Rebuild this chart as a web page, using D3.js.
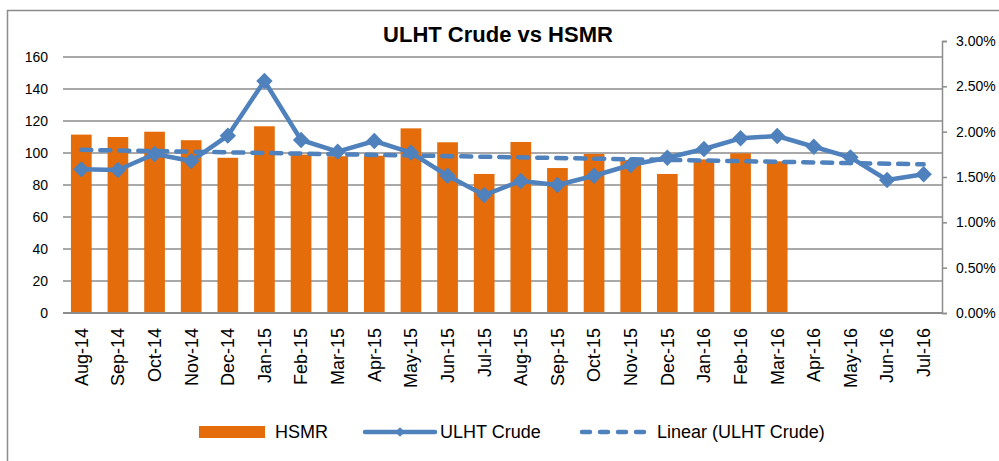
<!DOCTYPE html>
<html>
<head>
<meta charset="utf-8">
<script src="https://d3js.org/d3.v7.min.js"></script>
<style>
  body { margin: 0; background: #fff; }
  svg { display: block; font-family: "Liberation Sans", Arial, sans-serif; }
</style>
</head>
<body>
<svg width="999" height="461"></svg>
<script>
var months = ["Aug-14","Sep-14","Oct-14","Nov-14","Dec-14","Jan-15","Feb-15","Mar-15","Apr-15","May-15","Jun-15","Jul-15",
              "Aug-15","Sep-15","Oct-15","Nov-15","Dec-15","Jan-16","Feb-16","Mar-16","Apr-16","May-16","Jun-16","Jul-16"];

// HSMR (left axis), no values after Mar-16
var hsmr = [111.5, 110, 113.3, 108, 97, 116.7, 99, 98, 98.3, 115.4, 106.7, 86.9,
            106.9, 90.6, 99.4, 95.6, 86.9, 96, 99.8, 94.8, null, null, null, null];

// ULHT crude mortality (right axis, %)
var crude = [1.585, 1.577, 1.754, 1.676, 1.956, 2.559, 1.908, 1.779, 1.897, 1.768, 1.514, 1.301,
             1.456, 1.412, 1.514, 1.632, 1.712, 1.809, 1.927, 1.952, 1.834, 1.717, 1.467, 1.53];

// linear trend of ULHT crude, first and last month
var trend = [1.80, 1.64];

var leftTicks = [0, 20, 40, 60, 80, 100, 120, 140, 160];
var rightTicks = [0, 0.5, 1, 1.5, 2, 2.5, 3];

var svg = d3.select("svg");
var orange = "#E46C0A", blue = "#4F81BD", grid = "#8C8C8C";

var plotL = 63, plotR = 942, plotT = 41, plotB = 313;

var x = d3.scaleBand().domain(months).range([plotL, plotR]);
var y = d3.scaleLinear().domain([0, 170]).range([plotB, plotT]);
var y2 = d3.scaleLinear().domain([0, 3]).range([plotB, plotT]);
var barW = x.bandwidth() * 0.565;
function cx(m) { return x(m) + x.bandwidth() / 2; }

// chart border (only left and top visible)
svg.append("rect")
    .attr("x", 7.5).attr("y", 10.5)
    .attr("width", 1000).attr("height", 460)
    .attr("fill", "none").attr("stroke", grid).attr("stroke-width", 1.5);

// title
svg.append("text")
    .attr("x", 498).attr("y", 42)
    .attr("text-anchor", "middle")
    .attr("font-size", 22).attr("font-weight", "bold")
    .text("ULHT Crude vs HSMR");

// gridlines
svg.append("g").selectAll("line")
  .data(leftTicks.slice(1))
  .enter().append("line")
    .attr("x1", plotL).attr("x2", plotR)
    .attr("y1", function(d) { return y(d); })
    .attr("y2", function(d) { return y(d); })
    .attr("stroke", grid).attr("stroke-width", 1.5);

// left labels
svg.append("g").selectAll("text")
  .data(leftTicks)
  .enter().append("text")
    .attr("x", 48)
    .attr("y", function(d) { return y(d); })
    .attr("dy", "0.35em")
    .attr("text-anchor", "end")
    .attr("font-size", 14)
    .text(function(d) { return d; });

// bars
svg.append("g").selectAll("rect")
  .data(months.map(function(m, i) { return { m: m, v: hsmr[i] }; }).filter(function(d) { return d.v != null; }))
  .enter().append("rect")
    .attr("x", function(d) { return cx(d.m) - barW / 2; })
    .attr("width", barW)
    .attr("y", function(d) { return y(d.v); })
    .attr("height", function(d) { return y(0) - y(d.v); })
    .attr("fill", orange);

// x axis line
svg.append("line")
    .attr("x1", plotL).attr("x2", plotR)
    .attr("y1", plotB).attr("y2", plotB)
    .attr("stroke", grid).attr("stroke-width", 2);

// right axis
var ra = svg.append("g").attr("transform", "translate(" + plotR + ",0)")
    .call(d3.axisRight(y2).tickValues(rightTicks).tickSize(5).tickPadding(9)
      .tickFormat(function(d) { return d.toFixed(2) + "%"; }));
ra.select(".domain").attr("stroke", grid).attr("stroke-width", 1.5);
ra.selectAll(".tick line").attr("stroke", grid).attr("stroke-width", 1.5);
ra.selectAll(".tick text").attr("font-size", 14).attr("fill", "#000");
ra.attr("font-family", null);

// x labels
svg.append("g").selectAll("text")
  .data(months)
  .enter().append("text")
    .attr("transform", function(d) { return "translate(" + cx(d) + ",328) rotate(-90)"; })
    .attr("dy", "0.35em")
    .attr("text-anchor", "end")
    .attr("font-size", 18)
    .text(function(d) { return d; });

// trend line
svg.append("line")
    .attr("x1", cx(months[0])).attr("x2", cx(months[months.length - 1]))
    .attr("y1", y2(trend[0])).attr("y2", y2(trend[1]))
    .attr("stroke", blue).attr("stroke-width", 4.5)
    .attr("stroke-dasharray", "10,9").attr("stroke-linecap", "round");

// crude line
var line = d3.line()
    .x(function(d, i) { return cx(months[i]); })
    .y(function(d) { return y2(d); });

svg.append("path")
    .datum(crude)
    .attr("d", line)
    .attr("fill", "none")
    .attr("stroke", blue).attr("stroke-width", 4.5)
    .attr("stroke-linejoin", "round");

var diamond = d3.symbol().type(d3.symbolDiamond2).size(170);

svg.append("g").selectAll("path")
  .data(crude)
  .enter().append("path")
    .attr("d", diamond)
    .attr("transform", function(d, i) { return "translate(" + cx(months[i]) + "," + y2(d) + ")"; })
    .attr("fill", blue);

// legend
var lg = svg.append("g").attr("font-size", 18);
lg.append("rect").attr("x", 199).attr("y", 426).attr("width", 66).attr("height", 12).attr("fill", orange);
lg.append("text").attr("x", 275).attr("y", 432).attr("dy", "0.35em").text("HSMR");

lg.append("line").attr("x1", 365).attr("x2", 435).attr("y1", 432).attr("y2", 432)
    .attr("stroke", blue).attr("stroke-width", 4.5).attr("stroke-linecap", "round");
lg.append("path").attr("d", d3.symbol().type(d3.symbolDiamond2).size(60))
    .attr("transform", "translate(400,432)").attr("fill", blue);
lg.append("text").attr("x", 440).attr("y", 432).attr("dy", "0.35em").text("ULHT Crude");

lg.append("line").attr("x1", 582).attr("x2", 650).attr("y1", 432).attr("y2", 432)
    .attr("stroke", blue).attr("stroke-width", 4.5)
    .attr("stroke-dasharray", "8,10").attr("stroke-linecap", "round");
lg.append("text").attr("x", 657).attr("y", 432).attr("dy", "0.35em").text("Linear (ULHT Crude)");
</script>
</body>
</html>
